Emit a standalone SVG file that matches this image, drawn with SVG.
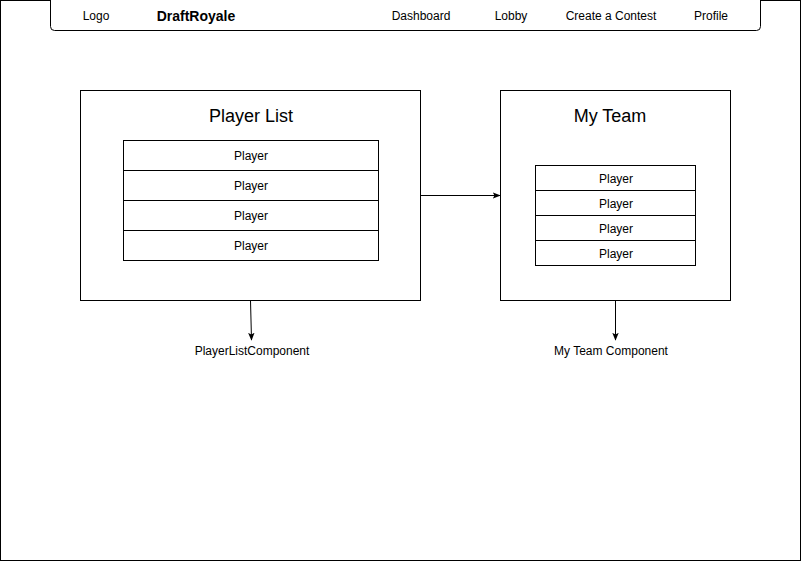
<svg xmlns="http://www.w3.org/2000/svg" width="801" height="561" viewBox="0 0 801 561">
<style>
.box{fill:#fff;stroke:#000;stroke-width:1}
.t{font-family:"Liberation Sans",Arial,sans-serif;font-size:12px;fill:#000;text-anchor:middle;dominant-baseline:central}
.title{font-size:18px}
.c{fill:none;stroke:#000;stroke-width:1}
</style>
<defs>
<marker id="ah" viewBox="0 0 10 10" refX="9" refY="5" markerWidth="8" markerHeight="8" markerUnits="userSpaceOnUse" orient="auto">
<path d="M0,1 L10,5 L0,9 L2,5 Z" fill="#000"/>
</marker>
</defs>
<rect x="0.5" y="0.5" width="800" height="560" fill="#fff" stroke="#000"/>
<g id="navbar">
<rect class="box" x="50.5" y="-4.5" width="710" height="35" rx="4"/>
<text class="t" x="96" y="16">Logo</text>
<text class="t" x="196" y="16" style="font-weight:bold;font-size:14px">DraftRoyale</text>
<text class="t" x="421" y="16">Dashboard</text>
<text class="t" x="511" y="16">Lobby</text>
<text class="t" x="611" y="16">Create a Contest</text>
<text class="t" x="711" y="16">Profile</text>
</g>
<g id="player-list">
<rect class="box" x="80.5" y="90.5" width="340" height="210"/>
<text class="t title" x="251" y="116">Player List</text>
<rect class="box" x="123.5" y="140.5" width="255" height="30"/>
<text class="t" x="251" y="156">Player</text>
<rect class="box" x="123.5" y="170.5" width="255" height="30"/>
<text class="t" x="251" y="186">Player</text>
<rect class="box" x="123.5" y="200.5" width="255" height="30"/>
<text class="t" x="251" y="216">Player</text>
<rect class="box" x="123.5" y="230.5" width="255" height="30"/>
<text class="t" x="251" y="246">Player</text>
</g>
<g id="my-team">
<rect class="box" x="500.5" y="90.5" width="230" height="210"/>
<text class="t title" x="610" y="116">My Team</text>
<rect class="box" x="535.5" y="165.5" width="160" height="25"/>
<text class="t" x="616" y="179">Player</text>
<rect class="box" x="535.5" y="190.5" width="160" height="25"/>
<text class="t" x="616" y="204">Player</text>
<rect class="box" x="535.5" y="215.5" width="160" height="25"/>
<text class="t" x="616" y="229">Player</text>
<rect class="box" x="535.5" y="240.5" width="160" height="25"/>
<text class="t" x="616" y="254">Player</text>
</g>
<g id="label-playerlist">
<text class="t" x="252" y="351">PlayerListComponent</text>
</g>
<g id="label-myteam">
<text class="t" x="611" y="351">My Team Component</text>
</g>
<g id="connectors">
<path class="c" d="M420.5,195.5 L500,195.5" marker-end="url(#ah)"/>
<path class="c" d="M250.5,300.5 L251.5,340" marker-end="url(#ah)"/>
<path class="c" d="M615.5,300.5 L615.5,340" marker-end="url(#ah)"/>
</g>
</svg>
